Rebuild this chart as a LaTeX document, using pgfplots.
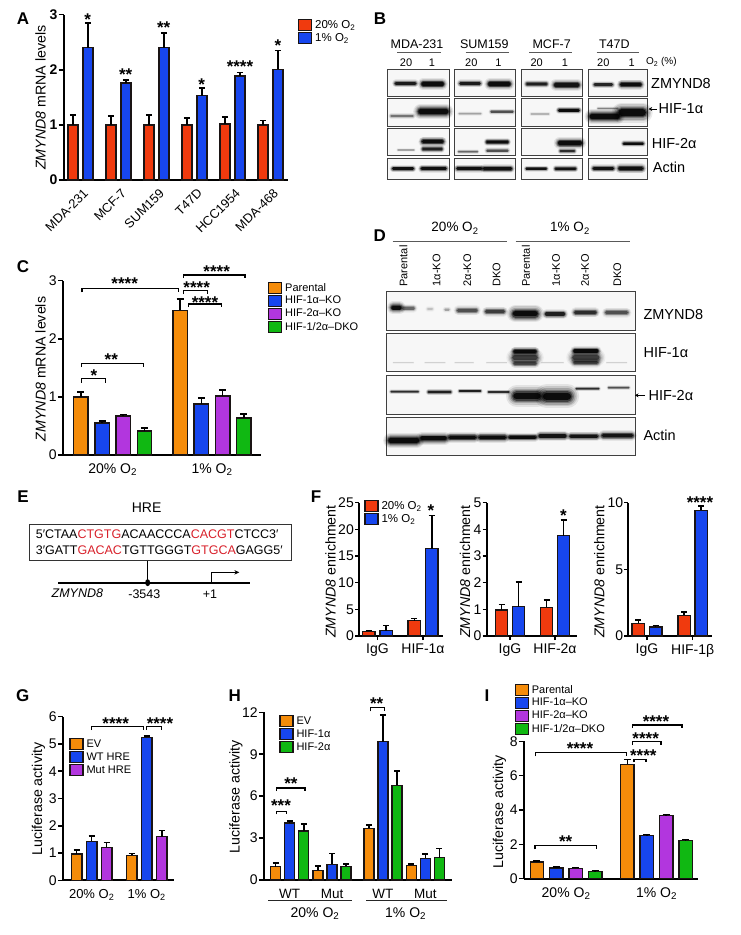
\documentclass[border=0pt]{standalone}
\usepackage{fontspec}
\setmainfont{Liberation Sans}
\usepackage{pgfplots}
\pgfplotsset{compat=1.18}
\usetikzlibrary{arrows.meta}
\definecolor{cR}{HTML}{F03A0E}
\definecolor{cB}{HTML}{1746EE}
\definecolor{cO}{HTML}{F58C0A}
\definecolor{cP}{HTML}{B236DE}
\definecolor{cG}{HTML}{10B812}
\definecolor{bl}{HTML}{1A1414}
\definecolor{redt}{HTML}{D8202A}
\newcommand\fs[1]{\fontsize{#1}{#1}\selectfont}
\newcommand\Ot{O\textsubscript{2}}
\pgfplotsset{
 panel/.style n args={4}{scale only axis,at={(#1pt,-#2pt)},anchor=south west,width=#3pt,height=#4pt,
  axis lines=left,axis line style={line width=1.9pt,-,black},clip=false,ymin=0,
  tick style={black,line width=1.5pt},major tick length=5.5pt,tick align=outside,
  /pgf/number format/assume math mode=true,
  yticklabel style={font=\fs{14},inner sep=1pt},
  xticklabel style={font=\fs{14},inner sep=1pt},
  xtick style={draw=none},
  legend cell align=left},
 lg/.style n args={3}{legend style={at={(#1,#2)},anchor=north west,draw=none,fill=none,inner sep=0pt,outer sep=0pt,row sep=.8pt,font=\fs{#3},
   nodes={inner sep=0pt,outer sep=0pt},/tikz/every odd column/.style={column sep=3pt}}},
 bb/.style n args={4}{ybar,bar width=#3pt,bar shift=0pt,xshift=#2pt,draw=bl,line width=1.4pt,fill=#1,
   legend image code/.code={\draw[xshift=-#2pt,fill=#1,draw=bl,line width=1.2pt] (0pt,-5.5pt) rectangle (13pt,5.5pt);},
   /pgfplots/error bars/y dir=plus,/pgfplots/error bars/y explicit,
   /pgfplots/error bars/error bar style={line width=1.6pt,black},
   /pgfplots/error bars/error mark options={rotate=90,line width=1.6pt,black,mark size=#4pt}},
}
% blurred blot band
\newcommand\band[5]{\foreach \w/\o in {2.5/.08,2.1/.12,1.75/.18,1.4/.28,1.1/.45,.8/.8}{%
  \pgfmathsetmacro\op{#5*\o}\pgfmathsetmacro\lw{#4*\w}%
  \draw[line cap=round,black,opacity=\op,line width=\lw pt] (#1,#3)--(#2,#3);}}
\newcommand\blot[4]{\draw[fill=gray!6,draw=black!75,line width=.8pt] (#1,#3) rectangle (#2,#4);}
\newcommand\st[3]{\node[font=\fs{17}\bfseries,anchor=base,inner sep=0pt] at (#1,#2) [yshift=-8.8pt] {#3};}
\newcommand\brk[4]{\draw[line width=1.4pt,black] (#1,#4)--(#1,#3)--(#2,#3)--(#2,#4);}
\newcommand\ylab[3]{\node[rotate=90,font=\fs{14.2},inner sep=0pt] at (#1,#2) {#3};}
\newcommand\letter[3]{\node[font=\fs{17}\bfseries,inner sep=0pt] at (#1,#2) {#3};}
\begin{document}
\begin{tikzpicture}
\path[use as bounding box] (0pt,0pt) rectangle (740pt,-935pt);

% ---------- A
\begin{axis}[panel={64}{180}{224}{165.3},lg={{(298-64)/224}}{{(180-19)/165.3}}{11.5},
 xmin=-0.434,xmax=5.461,ymax=3,ytick={0,1,2,3},yticklabel style={font=\fs{14}\bfseries},
 xtick={0,1,2,3,4,5},xticklabels={MDA-231,MCF-7,SUM159,T47D,HCC1954,MDA-468},
 xticklabel style={font=\fs{12.8},rotate=45,anchor=north east,inner sep=0pt,xshift=0pt,yshift=-3pt}]
\addplot[bb={cR}{-7.5}{10}{3}] coordinates {(0,1) +- (0,.18) (1,1) +- (0,.16) (2,1) +- (0,.18) (3,1) +- (0,.13) (4,1.02) +- (0,.12) (5,1) +- (0,.08)};
\addplot[bb={cB}{7.5}{10}{3}] coordinates {(0,2.4) +- (0,.45) (1,1.76) +- (0,.05) (2,2.4) +- (0,.27) (3,1.53) +- (0,.14) (4,1.89) +- (0,.06) (5,2.01) +- (0,.34)};
\addlegendentry{20\% \Ot}\addlegendentry{1\% \Ot}
\end{axis}

% ---------- C
\begin{axis}[panel={63.3}{455}{197.7}{174.3},lg={{(268-63.3)/197.7}}{{(455-281.7)/174.3}}{11},
 xmin=-0.497,xmax=1.493,ymax=3,ytick={0,1,2,3},
 xtick={0,1},xticklabels={20\% \Ot,1\% \Ot},xticklabel style={yshift=-2pt}]
\addplot[bb={cO}{-31.8}{14.5}{3.5}] coordinates {(0,1) +- (0,.08) (1,2.49) +- (0,.2)};
\addplot[bb={cB}{-10.6}{14.5}{3.5}] coordinates {(0,.55) +- (0,.035) (1,.88) +- (0,.105)};
\addplot[bb={cP}{10.6}{14.5}{3.5}] coordinates {(0,.67) +- (0,.025) (1,1.015) +- (0,.105)};
\addplot[bb={cG}{31.8}{14.5}{3.5}] coordinates {(0,.41) +- (0,.055) (1,.64) +- (0,.065)};
\addlegendentry{Parental}\addlegendentry{HIF-1α–KO}\addlegendentry{HIF-2α–KO}\addlegendentry{HIF-1/2α–DKO}
\end{axis}

% ---------- F
\begin{axis}[panel={359}{636}{83.7}{133.3},lg={{(364.3-359)/83.7}}{{(636-500)/133.3}}{11.5},
 xmin=-0.404,xmax=1.432,ymax=25,ytick={0,5,10,15,20,25},
 xtick={0,1},xticklabels={IgG,HIF-1α},xtick style={draw=black},major tick length=4pt,xticklabel style={yshift=-3pt}]
\addplot[bb={cR}{-8.7}{12.5}{3}] coordinates {(0,.85) +- (0,.2) (1,2.9) +- (0,.35)};
\addplot[bb={cB}{8.7}{12.5}{3}] coordinates {(0,1) +- (0,.94) (1,16.4) +- (0,6.2)};
\addlegendentry{20\% \Ot}\addlegendentry{1\% \Ot}
\end{axis}
\begin{axis}[panel={486.7}{636}{90}{133.3},
 xmin=-0.518,xmax=1.482,ymax=5,ytick={0,1,2,3,4,5},
 xtick={0,1},xticklabels={IgG,HIF-2α},xtick style={draw=black},major tick length=4pt,xticklabel style={yshift=-3pt}]
\addplot[bb={cR}{-8.5}{12.5}{3}] coordinates {(0,.97) +- (0,.21) (1,1.07) +- (0,.29)};
\addplot[bb={cB}{8.5}{12.5}{3}] coordinates {(0,1.1) +- (0,.92) (1,3.77) +- (0,.59)};
\end{axis}
\begin{axis}[panel={628.3}{636}{83.4}{133.3},
 xmin=-0.409,xmax=1.416,ymax=10,ytick={0,5,10},
 xtick={0,1},xticklabels={IgG,HIF-1β},xtick style={draw=black},major tick length=4pt,xticklabel style={yshift=-3pt}]
\addplot[bb={cR}{-8.6}{12.5}{3}] coordinates {(0,.95) +- (0,.27) (1,1.55) +- (0,.23)};
\addplot[bb={cB}{8.6}{12.5}{3}] coordinates {(0,.68) +- (0,.1) (1,9.42) +- (0,.33)};
\end{axis}

% ---------- G
\begin{axis}[panel={63.3}{880.3}{110.7}{163.6},lg={{(69.3-63.3)/110.7}}{{(880.3-738)/163.6}}{11},
 xmin=-0.516,xmax=1.496,ymax=6,ytick={0,1,2,3,4,5,6},
 xtick={0,1},xticklabels={20\% \Ot,1\% \Ot},xticklabel style={font=\fs{13},yshift=-2pt}]
\addplot[bb={cO}{-15}{10.3}{3}] coordinates {(0,.97) +- (0,.14) (1,.91) +- (0,.07)};
\addplot[bb={cB}{0}{10.3}{3}] coordinates {(0,1.43) +- (0,.2) (1,5.24) +- (0,.06)};
\addplot[bb={cP}{15}{10.3}{3}] coordinates {(0,1.21) +- (0,.18) (1,1.6) +- (0,.23)};
\addlegendentry{EV}\addlegendentry{WT HRE}\addlegendentry{Mut HRE}
\end{axis}

% ---------- H
\begin{axis}[panel={264.3}{880}{187.4}{167.7},lg={{(279.3-264.3)/187.4}}{{(880-715)/167.7}}{11},
 xmin=-0.599,xmax=3.821,ymax=12,ytick={0,3,6,9,12},
 xtick={0,1,2.2,3.2},xticklabels={WT,Mut,WT,Mut},xticklabel style={font=\fs{13.5},yshift=-2pt}]
\addplot[bb={cO}{-14.1}{10}{3}] coordinates {(0,.95) +- (0,.25) (1,.7) +- (0,.3) (2.2,3.7) +- (0,.23) (3.2,1.05) +- (0,.1)};
\addplot[bb={cB}{0}{10}{3}] coordinates {(0,4.07) +- (0,.15) (1,1.13) +- (0,.77) (2.2,9.9) +- (0,1.9) (3.2,1.55) +- (0,.33)};
\addplot[bb={cG}{14.1}{10}{3}] coordinates {(0,3.5) +- (0,.5) (1,.97) +- (0,.18) (2.2,6.77) +- (0,1.01) (3.2,1.6) +- (0,.65)};
\addlegendentry{EV}\addlegendentry{HIF-1α}\addlegendentry{HIF-2α}
\end{axis}

% ---------- I
\begin{axis}[panel={524.3}{878.7}{174}{137.4},lg={{(514.7-524.3)/174}}{{(878.7-683.7)/137.4}}{11},
 xmin=-0.462,xmax=1.462,ymax=8,ytick={0,2,4,6,8},
 xtick={0,1},xticklabels={20\% \Ot,1\% \Ot},xticklabel style={yshift=-2pt}]
\addplot[bb={cO}{-29.1}{13.3}{3.5}] coordinates {(0,.97) +- (0,.06) (1,6.66) +- (0,.27)};
\addplot[bb={cB}{-9.7}{13.3}{3.5}] coordinates {(0,.62) +- (0,.06) (1,2.5) +- (0,.08)};
\addplot[bb={cP}{9.7}{13.3}{3.5}] coordinates {(0,.6) +- (0,.06) (1,3.67) +- (0,.08)};
\addplot[bb={cG}{29.1}{13.3}{3.5}] coordinates {(0,.41) +- (0,.06) (1,2.21) +- (0,.08)};
\addlegendentry{Parental}\addlegendentry{HIF-1α–KO}\addlegendentry{HIF-2α–KO}\addlegendentry{HIF-1/2α–DKO}
\end{axis}

% ================= annotations, coordinates in 3x crop units
% A
\begin{scope}[shift={(0pt,0pt)},x=.33333pt,y=-.33333pt]
\letter{69}{55}{A}
\ylab{122}{293}{\textit{ZMYND8} mRNA levels}
\st{263}{50}{*}\st{377}{215}{**}\st{491}{73}{**}\st{605}{245}{*}\st{720}{190}{****}\st{834}{128}{*}
\end{scope}
% B
\begin{scope}[shift={(370pt,0pt)},x=.33333pt,y=-.33333pt]
\letter{30}{57}{B}
\foreach \t/\x/\a/\b in {MDA-231/141/82/212,SUM159/343/287/417,MCF-7/545/478/607,T47D/733/680/808}{
 \node[font=\fs{12.5},inner sep=0pt] at (\x,133) {\t};
 \draw[black!65,line width=.9pt] (\a,158)--(\b,158);}
\foreach \t/\x in {20/108,1/186,20/304,1/385,20/500,1/585,20/700,1/785}{\node[font=\fs{11},inner sep=0pt] at (\x,187) {\t};}
\node[font=\fs{10},inner sep=0pt,anchor=west] at (828,187) {\Ot{} (\%)};
\foreach \a/\b in {52/238,253/437,454/638,655/832}{
 \blot{\a}{\b}{208}{290}\blot{\a}{\b}{296}{380}\blot{\a}{\b}{386}{466}\blot{\a}{\b}{474}{538}}
% col1
\band{78}{135}{250}{3.2}{.85}\band{160}{216}{252}{4.6}{1}
\band{64}{128}{348}{2.5}{.35}\band{152}{228}{335}{6}{1}
\band{84}{132}{450}{1.5}{.2}\band{160}{216}{425}{4}{1}\band{160}{214}{447}{3}{.8}
\band{70}{128}{506}{3}{.95}\band{156}{226}{506}{3.2}{.95}
% col2
\band{272}{328}{250}{3.2}{.85}\band{360}{416}{252}{4.6}{1}
\band{268}{332}{341}{2}{.2}\band{364}{428}{335}{2.3}{.5}
\band{266}{322}{455}{1.8}{.4}\band{352}{412}{426}{3}{1}\band{352}{412}{452}{2.6}{.5}
\band{263}{333}{506}{3.2}{.95}\band{343}{422}{506}{3.4}{.95}
% col3
\band{472}{528}{252}{3.2}{.8}\band{558}{622}{255}{4.8}{.9}
\band{484}{536}{342}{1.8}{.15}\band{568}{625}{331}{3}{1}
\band{570}{630}{429}{5}{1}\band{572}{612}{453}{2.6}{.7}
\band{470}{528}{506}{2.4}{.95}\band{558}{615}{506}{2.8}{.95}
% col4
\band{675}{725}{254}{3}{.75}\band{755}{810}{254}{4}{1}
\band{666}{742}{349}{6}{1}\band{755}{818}{338}{8}{1}\band{684}{742}{325}{1.5}{.3}
\band{762}{818}{431}{2.6}{1}
\band{672}{728}{505}{3.2}{.95}\band{750}{815}{505}{4}{.95}
\node[font=\fs{14.5},inner sep=0pt,anchor=west] at (843,250) {ZMYND8};
\draw[-{Stealth[length=3.5pt,width=4pt]},line width=.9pt] (860,327)--(836,327);
\node[font=\fs{14.5},inner sep=0pt,anchor=west] at (865,327) {HIF-1α};
\node[font=\fs{14.5},inner sep=0pt,anchor=west] at (845,430) {HIF-2α};
\node[font=\fs{14.5},inner sep=0pt,anchor=west] at (848,503) {Actin};
\end{scope}
% C
\begin{scope}[shift={(0pt,-195pt)},x=.33333pt,y=-.33333pt]
\letter{69}{216}{C}
\ylab{122}{522}{\textit{ZMYND8} mRNA levels}
\brk{246}{535}{280}{292}\st{374}{256}{****}
\brk{550}{735}{240}{249}\st{650}{221}{****}
\brk{550}{622}{287}{297}\st{590}{268}{****}
\brk{566}{665}{327}{336}\st{615}{314}{****}
\brk{244}{430}{505}{516}\st{334}{485}{**}
\brk{244}{316}{551}{563}\st{282}{534}{*}
\end{scope}
% D
\begin{scope}[shift={(370pt,-195pt)},x=.33333pt,y=-.33333pt]
\letter{29}{122}{D}
\node[font=\fs{13.5},inner sep=0pt] at (255,100) {20\% \Ot};
\node[font=\fs{13.5},inner sep=0pt] at (600,100) {1\% \Ot};
\draw[black!65,line width=1pt] (68,140)--(411,140) (437,140)--(780,140);
\foreach \t/\x in {Parental/100,1α-KO/200,2α-KO/292,DKO/380,Parental/468,1α-KO/558,2α-KO/645,DKO/742}{
 \node[font=\fs{11},rotate=90,anchor=west,inner sep=0pt] at (\x,275) {\t};}
\blot{50}{796}{290}{405}\blot{50}{796}{415}{530}\blot{50}{796}{542}{658}\blot{50}{796}{667}{780}
\band{70}{88}{338}{5}{1}\band{100}{130}{340}{3.5}{.4}\band{174}{186}{342}{2.5}{.12}\band{226}{236}{344}{2.5}{.2}
\band{265}{318}{346}{4}{.5}\band{350}{400}{350}{4}{.6}\band{437}{495}{356}{7}{1}\band{530}{580}{357}{4}{.8}
\band{617}{675}{352}{4}{.7}\band{710}{770}{353}{4}{.5}
\foreach \a/\b in {70/130,165/225,255/310,350/410,515/580,710/770}{\band{\a}{\b}{503}{1}{.08}}
\band{435}{495}{470}{4}{1}\band{435}{495}{488}{7}{.6}\band{435}{495}{505}{4}{.5}
\band{615}{680}{468}{4}{1}\band{615}{680}{488}{7}{.6}\band{615}{680}{503}{4}{.5}
\band{64}{144}{590}{2}{.7}\band{176}{241}{591}{2.4}{.8}\band{269}{331}{588}{2}{.8}\band{356}{416}{591}{2}{.7}
\band{440}{502}{603}{8.5}{1}\band{530}{592}{604}{9.5}{1}\band{619}{686}{581}{1.8}{.7}\band{716}{776}{578}{1.8}{.5}
\band{62}{140}{736}{6}{1}\band{157}{224}{730}{5}{1}\band{241}{314}{727}{4.2}{1}\band{331}{404}{727}{4.2}{1}
\band{420}{495}{727}{3.4}{1}\band{511}{584}{723}{4.2}{.9}\band{603}{680}{724}{3.8}{.9}\band{700}{785}{722}{4.2}{.9}
\node[font=\fs{14.5},inner sep=0pt,anchor=west] at (820,358) {ZMYND8};
\node[font=\fs{14.5},inner sep=0pt,anchor=west] at (820,472) {HIF-1α};
\draw[-{Stealth[length=3.5pt,width=4pt]},line width=.9pt] (825,601)--(795,601);
\node[font=\fs{14.5},inner sep=0pt,anchor=west] at (835,601) {HIF-2α};
\node[font=\fs{14.5},inner sep=0pt,anchor=west] at (820,720) {Actin};
\end{scope}
% E
\begin{scope}[shift={(0pt,-500pt)},x=.33333pt,y=-.33333pt]
\letter{69}{-10}{E}
\node[font=\fs{14},inner sep=0pt] at (440,24) {HRE};
\draw[black!80,line width=.9pt] (88,72) rectangle (875,182);
\node[font=\fs{12.5},inner sep=0pt,anchor=west] at (107,103) {5′CTAA{\color{redt}CTGTG}ACAACCCA{\color{redt}CACGT}CTCC3′};
\node[font=\fs{12.5},inner sep=0pt,anchor=west] at (107,150) {3′GATT{\color{redt}GACAC}TGTTGGGT{\color{redt}GTGCA}GAGG5′};
\draw[line width=1.3pt] (443,182)--(443,248);
\draw[line width=2.2pt] (175,248)--(750,248);
\fill (443,248) ellipse (2.5pt and 3.5pt);
\draw[line width=1.2pt,-{Stealth[length=5pt,width=4.5pt]}] (635,248)--(635,217)--(718,217);
\node[font=\fs{12.5}\itshape,inner sep=0pt] at (232,280) {ZMYND8};
\node[font=\fs{12.5},inner sep=0pt] at (433,284) {-3543};
\node[font=\fs{12.5},inner sep=0pt] at (630,284) {+1};
\end{scope}
% F
\begin{scope}[shift={(310pt,-500pt)},x=.33333pt,y=-.33333pt]
\letter{18}{-10}{F}
\ylab{62}{215}{\textit{ZMYND8} enrichment}
\ylab{465}{215}{\textit{ZMYND8} enrichment}
\ylab{868}{215}{\textit{ZMYND8} enrichment}
\st{363}{24}{*}\st{760}{38}{*}\st{1170}{0}{****}
\end{scope}
% G
\begin{scope}[shift={(0pt,-680pt)},x=.33333pt,y=-.33333pt]
\letter{68}{47}{G}
\ylab{115}{357}{Luciferase activity}
\brk{275}{430}{140}{150}\st{347}{122}{****}
\brk{440}{484}{140}{150}\st{480}{122}{****}
\end{scope}
% H
\begin{scope}[shift={(230pt,-680pt)},x=.33333pt,y=-.33333pt]
\letter{14}{47}{H}
\ylab{18}{350}{Luciferase activity}
\brk{140}{170}{395}{403}\st{153}{368}{***}
\brk{140}{225}{324}{333}\st{183}{302}{**}
\brk{422}{463}{83}{94}\st{440}{63}{**}
\draw[black!85,line width=1pt] (115,660)--(367,660) (408,660)--(652,660);
\node[font=\fs{14},inner sep=0pt] at (255,700) {20\% \Ot};
\node[font=\fs{14},inner sep=0pt] at (527,700) {1\% \Ot};
\end{scope}
% I
\begin{scope}[shift={(480pt,-680pt)},x=.33333pt,y=-.33333pt]
\letter{21}{46}{I}
\ylab{58}{395}{Luciferase activity}
\brk{167}{440}{218}{229}\st{300}{198}{****}
\brk{458}{606}{135}{144}\st{528}{116}{****}
\brk{458}{543}{185}{195}\st{497}{166}{****}
\brk{462}{498}{238}{247}\st{490}{218}{****}
\brk{165}{350}{497}{508}\st{257}{477}{**}
\end{scope}
\end{tikzpicture}
\end{document}
